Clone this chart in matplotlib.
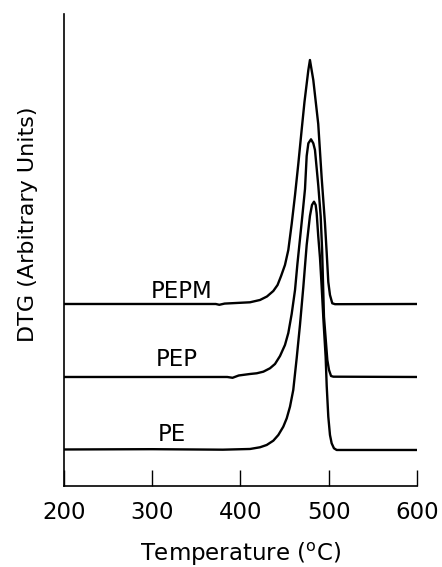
import numpy as np
import matplotlib.pyplot as plt

# DTG curves (arbitrary units, curves already offset)
t_pepm = [200, 372, 376, 382, 410.8, 422.1, 430.0, 437.2, 442.0, 446.0, 450.4, 454.2,
          458.0, 461.8, 465.5, 469.3, 472.5, 476.9, 478.7, 480.6, 482.5, 488.1, 492.0,
          495.7, 497.7, 499.5, 501.4, 504.0, 507.1, 600]
y_pepm = [182, 182, 181.2, 182.4, 183.7, 186, 189.5, 195, 201, 210, 221, 236,
          262, 291, 322, 356, 384, 416, 426, 416, 406, 362, 308,
          263, 233, 204, 191, 182.7, 181.8, 182]

t_pep = [200, 385, 391, 398, 410.8, 418.4, 425.9, 433.4, 439.1, 444.8, 450.4, 454.2,
         458.0, 461.8, 464.5, 467.4, 470.3, 473.1, 475.0, 476.9, 479.9, 482.5, 484.4,
         488.2, 490.9, 492.5, 494.6, 498.4, 500.3, 502.6, 505.2, 600]
y_pep = [109, 109, 108.2, 110.5, 112, 112.7, 114.3, 117.7, 122, 130, 141, 153,
         172, 196, 222, 247, 272, 297, 330, 342.7, 346.7, 342.7, 336,
         300, 269.3, 236, 169.3, 126, 116, 110, 109.3, 109]

t_pe = [200, 300, 380, 410.8, 422.1, 429.7, 437.2, 442.9, 448.5, 452.4, 456.1, 459.8,
        463.7, 467.4, 471.2, 475.0, 478.7, 481.0, 483.3, 485.2, 486.3, 488.1, 490.1,
        492.0, 494.0, 496.5, 497.7, 499.5, 501.4, 503.3, 505.9, 509, 600]
y_pe = [36.5, 36.8, 36.3, 37, 38.7, 41, 45.3, 51, 59.3, 67.7, 79.3, 96,
        128, 161, 199, 241, 270, 281, 284.3, 281, 273, 250, 228,
        199, 166, 129, 100, 69.3, 51, 42.7, 37.7, 36, 36]

labels = ['PEPM', 'PEP', 'PE']
label_t = [333.7, 328.0, 322.4]
label_y = [194, 126, 51]

xticks = [200, 300, 400, 500, 600]

plt.rcParams['font.family'] = 'DejaVu Sans'
fig = plt.figure(figsize=(4.42, 5.67), dpi=100)
ax = fig.add_axes([0.1448, 0.1429, 0.7986, 0.8324])

for t, y in [(t_pepm, y_pepm), (t_pep, y_pep), (t_pe, y_pe)]:
    ax.plot(t, y, color='black', lw=1.7, solid_joinstyle='round')

for name, tx, ty in zip(labels, label_t, label_y):
    ax.text(tx, ty, name, fontsize=16.5, ha='center', va='center')

ax.set_xlim(200, 600)
ax.set_ylim(0, 472)
ax.set_xticks(xticks)
ax.set_yticks([])
ax.tick_params(axis='x', direction='in', length=11.5, width=1, labelsize=16.5, pad=10.5)
ax.spines['top'].set_visible(False)
ax.spines['right'].set_visible(False)
ax.spines['left'].set_linewidth(1.2)
ax.spines['bottom'].set_linewidth(1.2)

ax.set_xlabel(r'Temperature ($^{\rm o}$C)', fontsize=16.5, labelpad=12.5)
ax.set_ylabel('DTG (Arbitrary Units)', fontsize=16)
ax.yaxis.set_label_coords(-0.075, 0.555)

fig.savefig('out.png', dpi=100)
